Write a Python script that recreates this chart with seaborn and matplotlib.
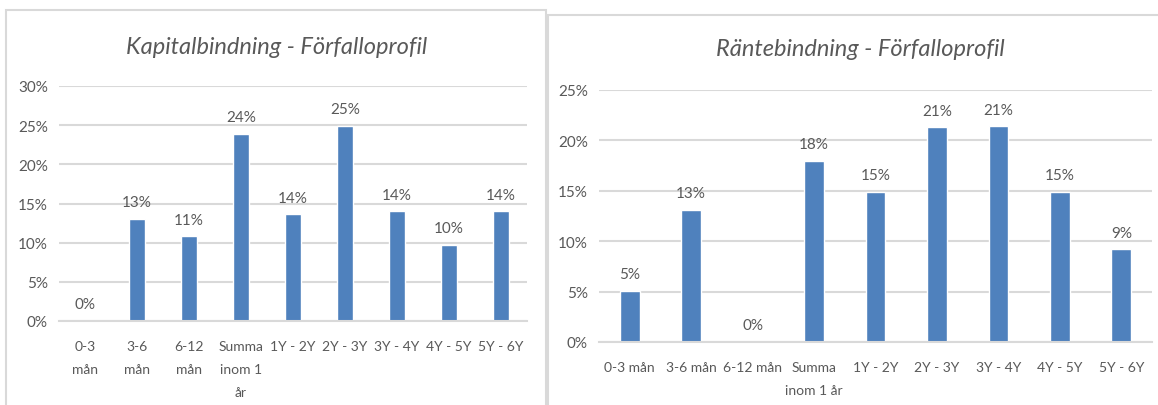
import matplotlib
matplotlib.use("Agg")
import matplotlib.pyplot as plt
import seaborn as sns
import pandas as pd
from matplotlib.patches import Rectangle

# ---- data ----
left_title = "Kapitalbindning - Förfalloprofil"
left_categories = ["0-3\nmån", "3-6\nmån", "6-12\nmån", "Summa\ninom 1\når",
                   "1Y - 2Y", "2Y - 3Y", "3Y - 4Y", "4Y - 5Y", "5Y - 6Y"]
left_values = [0.0, 13.0, 10.8, 23.9, 13.6, 24.9, 14.0, 9.7, 14.0]
left_yticks = [0, 5, 10, 15, 20, 25, 30]

right_title = "Räntebindning - Förfalloprofil"
right_categories = ["0-3 mån", "3-6 mån", "6-12 mån", "Summa\ninom 1 år",
                    "1Y - 2Y", "2Y - 3Y", "3Y - 4Y", "4Y - 5Y", "5Y - 6Y"]
right_values = [5.1, 13.1, 0.0, 18.0, 14.9, 21.3, 21.4, 14.9, 9.2]
right_yticks = [0, 5, 10, 15, 20, 25]

# ---- style ----
sns.set_theme(style="white")
plt.rcParams["font.family"] = ["Lato", "DejaVu Sans"]
BAR = "#4F81BD"
GRID = "#D9D9D9"
TXT = "#595959"
W, H = 1158, 406

fig = plt.figure(figsize=(W / 100, H / 100), dpi=100)

# panel borders
fig.patches.append(Rectangle((6 / W, -0.01), 540 / W, (H - 10.5) / H + 0.01, transform=fig.transFigure,
                             fill=False, edgecolor=GRID, linewidth=1.5))
fig.patches.append(Rectangle((548 / W, -0.01), (W - 548 + 5) / W, (H - 15.5) / H + 0.01,
                             transform=fig.transFigure,
                             fill=False, edgecolor=GRID, linewidth=1.5))


def draw(rect, cats, vals, yticks, title, title_xy):
    ax = fig.add_axes(rect)
    df = pd.DataFrame({"cat": cats, "val": vals})
    sns.barplot(data=df, x="cat", y="val", color=BAR, width=0.32, ax=ax,
                saturation=1, order=cats)
    ax.set_ylim(yticks[0], yticks[-1])
    ax.set_yticks(yticks)
    ax.set_yticklabels([f"{t}%" for t in yticks])
    ax.set_xticks(range(len(cats)))
    ax.set_xticklabels(cats, linespacing=2.1)
    ax.set_xlabel("")
    ax.set_ylabel("")
    ax.yaxis.grid(True, color=GRID, linewidth=1.5)
    ax.set_axisbelow(True)
    for s in ["top", "left", "right"]:
        ax.spines[s].set_visible(False)
    ax.spines["bottom"].set_color(GRID)
    ax.spines["bottom"].set_linewidth(1.5)
    ax.tick_params(axis="both", length=0, colors=TXT)
    ax.tick_params(axis="y", pad=8, labelsize=11)
    ax.tick_params(axis="x", pad=14, labelsize=10)
    ax.bar_label(ax.containers[0], labels=[f"{v:.0f}%" for v in vals],
                 padding=7, color=TXT, fontsize=11)
    fig.text(title_xy[0] / W, 1 - title_xy[1] / H, title, ha="center", va="center",
             fontsize=17, style="italic", color=TXT)
    return ax


draw([59 / W, (H - 322) / H, 468 / W, 235 / H], left_categories, left_values,
     left_yticks, left_title, (277, 47))
draw([599 / W, (H - 343) / H, 553 / W, 252 / H], right_categories, right_values,
     right_yticks, right_title, (860, 50))

fig.savefig("out.png", dpi=100)
